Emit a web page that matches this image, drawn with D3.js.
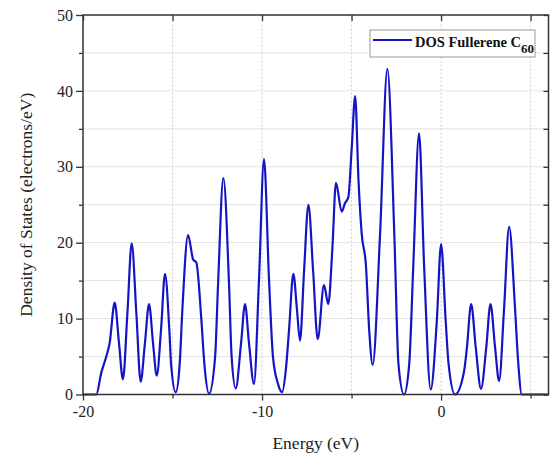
<!DOCTYPE html>
<html>
<head>
<meta charset="utf-8">
<script src="https://cdn.jsdelivr.net/npm/d3@7"></script>
<style>
  body { margin: 0; background: #fff; }
  svg { display: block; font-family: "Liberation Serif", "Times New Roman", serif; }
</style>
</head>
<body>
<div id="chart"></div>
<script>
// values (energy in eV, DOS in electrons/eV)
const energy = [
  -20, -19.26, -18.98, -18.70, -18.51, -18.23, -17.99, -17.77, -17.52, -17.28,
  -17.02, -16.78, -16.54, -16.31, -16.09, -15.88, -15.64, -15.42, -15.18, -15.08,
  -14.82, -14.60, -14.45, -14.13, -13.85, -13.67, -13.39, -13.22, -12.96, -12.62,
  -12.46, -12.16, -11.84, -11.70, -11.47, -11.17, -10.95, -10.73, -10.45, -10.17,
  -9.89, -9.61, -9.39, -9.12, -8.88, -8.66, -8.49, -8.25, -8.05, -7.88,
  -7.65, -7.41, -7.15, -6.89, -6.54, -6.30, -6.07, -5.87, -5.55, -5.37,
  -5.18, -4.99, -4.80, -4.61, -4.43, -4.20, -4.01, -3.82, -3.41, -3.00,
  -2.61, -2.38, -2.07, -1.78, -1.55, -1.23, -0.95, -0.58, -0.24, 0.00,
  0.26, 0.42, 0.78, 1.28, 1.44, 1.68, 1.94, 2.23, 2.52, 2.76,
  3.02, 3.24, 3.52, 3.80, 4.13, 4.30, 4.51, 6
];
const dos = [
  0, 0, 2.85, 5.0, 6.8, 12.1, 6.8, 2.0, 10.7, 19.9,
  10.7, 1.7, 6.8, 11.9, 6.8, 2.5, 8.6, 15.9, 8.6, 4.0,
  0.3, 4.0, 11.2, 21.0, 17.8, 17.4, 9.9, 4.0, 0.1, 5.0,
  14.3, 28.5, 14.3, 5.0, 0.8, 6.8, 11.9, 6.8, 1.4, 15.1,
  31.0, 15.1, 5.0, 1.5, 0.3, 3.5, 8.6, 15.9, 11.2, 7.1,
  16.4, 25.0, 16.4, 7.3, 14.4, 11.9, 19.3, 27.9, 24.1, 25.2,
  26.0, 32.5, 39.3, 28.1, 21.1, 17.1, 8.3, 3.9, 21.0, 42.9,
  21.0, 4.0, 0, 4.0, 17.1, 34.4, 17.1, 0.66, 9.6, 19.8,
  9.6, 4.0, 0, 3.0, 6.1, 11.9, 6.1, 0.75, 6.1, 11.9,
  6.1, 1.75, 11.4, 22.1, 11.4, 4.5, 0, 0
];

const xMajor = [-20, -10, 0];
const xMinor = [-15, -5, 5];
const yMajor = [0, 10, 20, 30, 40, 50];
const yMinor = [5, 15, 25, 35, 45];

const xTitle = "Energy (eV)";
const yTitle = "Density of States (electrons/eV)";
const legendLabel = "DOS Fullerene C";
const legendSub = "60";

let config = {
  width: 559,
  height: 455,
  left: 83,
  right: 10.5,
  top: 15,
  bottom: 60.5
};

let svg = d3.select("#chart")
  .append("svg")
  .attr("width", config.width)
  .attr("height", config.height);

let x = d3.scaleLinear()
  .domain([-20, 6])
  .range([config.left, config.width - config.right]);

let y = d3.scaleLinear()
  .domain([0, 50])
  .range([config.height - config.bottom, config.top]);

let x0 = x.range()[0], x1 = x.range()[1];
let y0 = y.range()[0], y1 = y.range()[1];

// grid
svg.append("g")
  .selectAll("line")
  .data(yMajor.concat(yMinor).filter(d => d > 0 && d < 50))
  .join("line")
  .attr("x1", x0).attr("x2", x1)
  .attr("y1", d => y(d)).attr("y2", d => y(d))
  .attr("stroke", "#e2e2e2")
  .attr("stroke-width", 1);

svg.append("g")
  .selectAll("line")
  .data(xMajor.concat(xMinor).filter(d => d > -20))
  .join("line")
  .attr("x1", d => x(d)).attr("x2", d => x(d))
  .attr("y1", y0).attr("y2", y1)
  .attr("stroke", "#cfcfcf")
  .attr("stroke-dasharray", "2,2")
  .attr("stroke-width", 1);

// DOS curve
let line = d3.line()
  .x((d, i) => x(energy[i]))
  .y(d => y(d))
  .curve(d3.curveMonotoneX);

svg.append("path")
  .datum(dos)
  .attr("fill", "none")
  .attr("stroke", "#1414c4")
  .attr("stroke-width", 2.2)
  .attr("stroke-linejoin", "round")
  .attr("d", line);

// axes: bottom/left ticks outward, top/right ticks inward
let plain = d => String(d);  // hyphen minus like the original
let bottomMajor = d3.axisBottom(x).tickValues(xMajor).tickSize(6).tickPadding(5).tickFormat(plain);
let bottomMinor = d3.axisBottom(x).tickValues(xMinor).tickSize(4).tickFormat("");
let leftMajor = d3.axisLeft(y).tickValues(yMajor).tickSize(7).tickPadding(3).tickFormat(plain);
let leftMinor = d3.axisLeft(y).tickValues(yMinor).tickSize(4).tickFormat("");
let topTicks = d3.axisBottom(x).tickValues(xMajor.concat(xMinor)).tickSize(6).tickFormat("");
let rightTicks = d3.axisLeft(y).tickValues(yMajor.concat(yMinor)).tickSize(5).tickFormat("");

function styleAxis(g) {
  g.select(".domain").remove();
  g.selectAll(".tick line").attr("stroke", "#333").attr("stroke-width", 1.3);
  g.selectAll(".tick text")
    .attr("fill", "#222")
    .attr("font-family", "Liberation Serif, Times New Roman, serif")
    .attr("font-size", 16);
}

svg.append("g").attr("transform", `translate(0,${y0})`).call(bottomMajor).call(styleAxis);
svg.append("g").attr("transform", `translate(0,${y0})`).call(bottomMinor).call(styleAxis);
svg.append("g").attr("transform", `translate(${x0},0)`).call(leftMajor).call(styleAxis);
svg.append("g").attr("transform", `translate(${x0},0)`).call(leftMinor).call(styleAxis);
svg.append("g").attr("transform", `translate(0,${y1})`).call(topTicks).call(styleAxis);
svg.append("g").attr("transform", `translate(${x1},0)`).call(rightTicks).call(styleAxis);

// frame
svg.append("rect")
  .attr("x", x0).attr("y", y1)
  .attr("width", x1 - x0).attr("height", y0 - y1)
  .attr("fill", "none")
  .attr("stroke", "#333")
  .attr("stroke-width", 1.5);

// axis titles
svg.append("text")
  .attr("x", (x0 + x1) / 2)
  .attr("y", 449)
  .attr("text-anchor", "middle")
  .attr("font-size", 17.5)
  .attr("fill", "#222")
  .text(xTitle);

svg.append("text")
  .attr("transform", `translate(32,${(y0 + y1) / 2}) rotate(-90)`)
  .attr("text-anchor", "middle")
  .attr("font-size", 17.5)
  .attr("fill", "#222")
  .text(yTitle);

// legend
let legend = svg.append("g");
legend.append("rect")
  .attr("x", 370).attr("y", 30)
  .attr("width", 165).attr("height", 27)
  .attr("fill", "#fff")
  .attr("stroke", "#999")
  .attr("stroke-width", 1);
legend.append("line")
  .attr("x1", 373).attr("x2", 412)
  .attr("y1", 40).attr("y2", 40)
  .attr("stroke", "#1414c4")
  .attr("stroke-width", 2);
let lt = legend.append("text")
  .attr("x", 415).attr("y", 46.5)
  .attr("font-size", 14.5)
  .attr("font-weight", "bold")
  .attr("fill", "#111");
lt.append("tspan").text(legendLabel);
lt.append("tspan").attr("dy", 6).attr("font-size", 13).text(legendSub);
</script>
</body>
</html>
